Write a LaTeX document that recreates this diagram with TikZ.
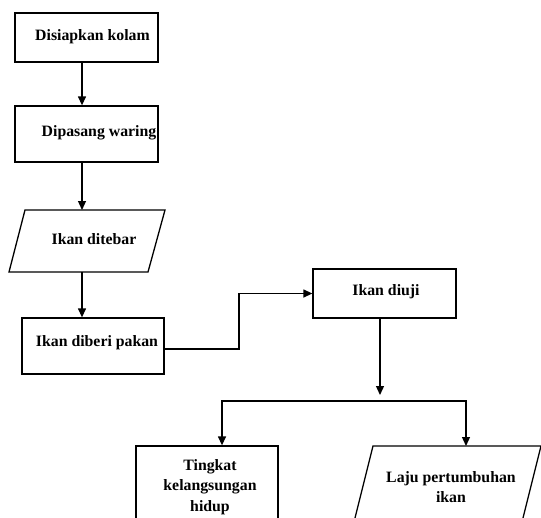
\documentclass[tikz,border=0pt]{standalone}
\usepackage{fontspec}
\setmainfont{Liberation Serif}
\usetikzlibrary{arrows.meta}
\begin{document}
\begin{tikzpicture}[x=1pt,y=-1pt,
  line width=1.3pt,
  box/.style={draw, line width=1.3pt, inner sep=0pt},
  lbl/.style={inner sep=0pt, font=\fontsize{15.8}{20.5}\selectfont\bfseries, align=center},
  arr/.style={-{Triangle[length=9pt,width=8pt]}},
  arrs/.style={{Triangle[length=9pt,width=8pt]}-{Triangle[length=9pt,width=8pt]}}]
\useasboundingbox (0,0) rectangle (541,517);
\clip (0,0) rectangle (541,517);
% boxes
\node[box, minimum width=143pt, minimum height=49pt] (b1) at (86.5,37.5) {};
\node[box, minimum width=143pt, minimum height=56pt] (b2) at (86.5,134) {};
\draw[line width=1.3pt] (25,210) -- (165,210) -- (148,272) -- (9,272) -- cycle;
\coordinate (p1top) at (82,210);
\coordinate (p1bot) at (82,272);
\node[box, minimum width=142pt, minimum height=56pt] (b4) at (93,346) {};
\node[box, minimum width=143pt, minimum height=49pt] (b5) at (384.5,293.5) {};
\node[box, minimum width=142pt, minimum height=94pt] (b6) at (207,493) {};
\draw[line width=1.3pt] (373,446) -- (541,446) -- (517.5,540) -- (349.5,540) -- cycle;
\coordinate (p2top) at (466,446);
% texts
\node[lbl] (t1) at (92.5,37) {Disiapkan kolam};
\node[lbl] (t2) at (99,133) {Dipasang waring};
\node[lbl] (t3) at (94,239) {Ikan ditebar};
\node[lbl] (t4) at (97,343) {Ikan diberi pakan};
\node[lbl] (t5) at (386,292) {Ikan diuji};
\node[lbl] (t6) at (210,487) {Tingkat\\kelangsungan\\hidup};
\node[lbl] (t7) at (451,487) {Laju pertumbuhan\\ikan};
% connectors
\draw[arr] ([xshift=-4.5pt]b1.south) -- ([xshift=-4.5pt]b2.north);
\draw[arr] ([xshift=-4.5pt]b2.south) -- (p1top);
\draw[arr] (p1bot) -- (p1bot |- b4.north);
\coordinate (elbow) at (239,320);
\draw[arr] ([yshift=-3pt]b4.east) -| (elbow) |- (b5.west);
\coordinate (split) at (380,395);
\draw[arr] ([xshift=-4.5pt]b5.south) -- (split);
\coordinate (hl) at (222,401);
\coordinate (hr) at (466,401);
\draw[arrs] (hl |- b6.north) -- (hl) -- (hr) -- (p2top);
\end{tikzpicture}
\end{document}
